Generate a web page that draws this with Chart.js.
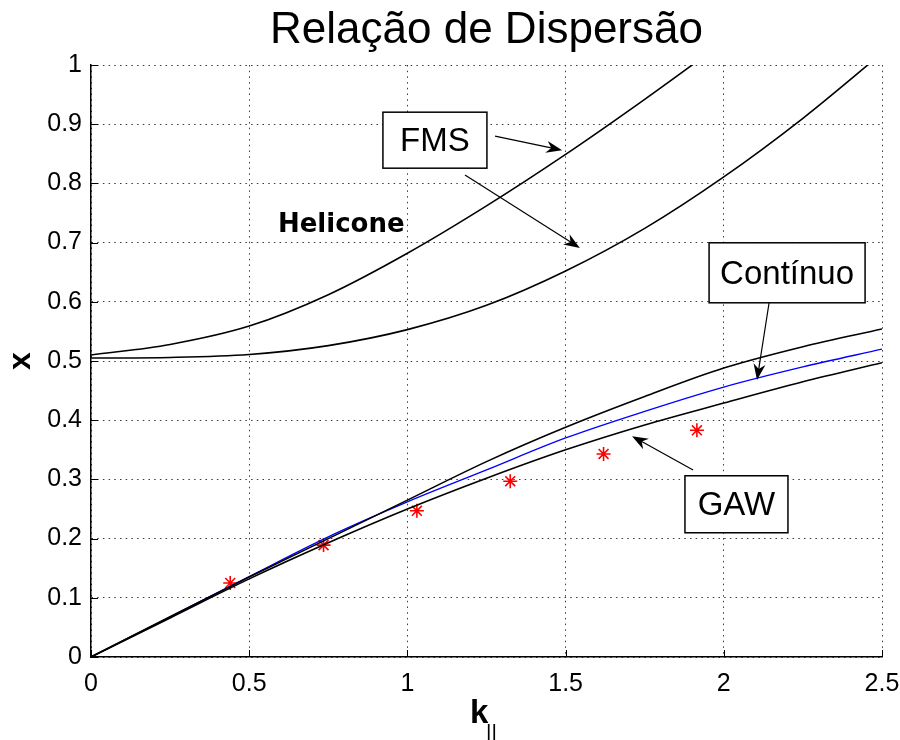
<!DOCTYPE html>
<html>
<head>
<meta charset="utf-8">
<title>Relação de Dispersão</title>
<script src="https://cdn.jsdelivr.net/npm/chart.js@4/dist/chart.umd.min.js"></script>
<style>
  html, body { margin: 0; padding: 0; background: #fff; }
  #wrap { width: 900px; height: 740px; }
</style>
</head>
<body>
<div id="wrap"><canvas id="graph" width="900" height="740"></canvas></div>
<script>
// k|| sample points shared by the curves
const kGrid = [0, 0.25, 0.5, 0.75, 1.0, 1.25, 1.5, 1.75, 2.0, 2.25, 2.5];

// fast magnetosonic branches
const fmsUpper = [0.510, 0.528, 0.559, 0.612, 0.682, 0.762, 0.849, 0.942, 1.039, null, null];
const fmsLower = [0.505, 0.506, 0.511, 0.526, 0.553, 0.594, 0.652, 0.724, 0.811, 0.910, 1.020];

// continuum edges and the GAW branch
const contTop = [0, 0.068, 0.135, 0.200, 0.265, 0.330, 0.388, 0.440, 0.488, 0.524, 0.554];
const contMid = [0, 0.068, 0.136, 0.203, 0.262, 0.316, 0.370, 0.415, 0.456, 0.490, 0.520];
const gawCurve = [0, 0.066, 0.132, 0.193, 0.250, 0.302, 0.350, 0.392, 0.429, 0.465, 0.497];

// measured points
const kMeas = [0.44, 0.735, 1.03, 1.325, 1.62, 1.915];
const xMeas = [0.125, 0.189, 0.247, 0.297, 0.343, 0.383];

const xTicks = [0, 0.5, 1, 1.5, 2, 2.5];
const yTicks = [0, 0.1, 0.2, 0.3, 0.4, 0.5, 0.6, 0.7, 0.8, 0.9, 1];

const FONT = "'Liberation Sans', Arial, Helvetica, sans-serif";

// text boxes and arrows, placed in data units
const boxes = [
  { text: "FMS", k: 1.087, x: 0.873, w: 104, h: 56 },
  { text: "Contínuo", k: 2.200, x: 0.649, w: 156, h: 60 },
  { text: "GAW", k: 2.040, x: 0.258, w: 103, h: 57 }
];
const arrows = [
  { from: [1.277, 0.880], to: [1.489, 0.856] },
  { from: [1.182, 0.814], to: [1.545, 0.691] },
  { from: [2.143, 0.598], to: [2.105, 0.468] },
  { from: [1.903, 0.316], to: [1.710, 0.373] }
];

function pairs(xs, ys) {
  return xs.map((k, i) => ({ x: k, y: ys[i] }));
}

function curve(values, color, width) {
  return {
    data: pairs(kGrid, values),
    borderColor: color,
    borderWidth: width,
    pointRadius: 0,
    fill: false,
    cubicInterpolationMode: "monotone",
    clip: 0
  };
}

function arrowHead(ctx, x1, y1, x2, y2) {
  const ang = Math.atan2(y2 - y1, x2 - x1);
  const len = 16, half = 6, back = 11;
  ctx.beginPath();
  ctx.moveTo(x2, y2);
  ctx.lineTo(x2 - len * Math.cos(ang) + half * Math.sin(ang), y2 - len * Math.sin(ang) - half * Math.cos(ang));
  ctx.lineTo(x2 - back * Math.cos(ang), y2 - back * Math.sin(ang));
  ctx.lineTo(x2 - len * Math.cos(ang) - half * Math.sin(ang), y2 - len * Math.sin(ang) + half * Math.cos(ang));
  ctx.closePath();
  ctx.fill();
}

/* ===============================
   TITLES, INNER TICKS, NOTES
   =============================== */
const decorations = {
  id: "decorations",
  afterDraw(chart) {
    const ctx = chart.ctx;
    const xs = chart.scales.x, ys = chart.scales.y;
    const area = chart.chartArea;

    ctx.save();
    ctx.fillStyle = "#000";
    ctx.strokeStyle = "#000";

    // inward tick marks
    ctx.lineWidth = 1;
    ctx.beginPath();
    xTicks.forEach(v => {
      const px = Math.round(xs.getPixelForValue(v)) + 0.5;
      ctx.moveTo(px, area.bottom);
      ctx.lineTo(px, area.bottom - 7);
    });
    yTicks.forEach(v => {
      const py = Math.round(ys.getPixelForValue(v)) + 0.5;
      ctx.moveTo(area.left, py);
      ctx.lineTo(area.left + 7, py);
    });
    ctx.stroke();

    // title
    ctx.font = "44px " + FONT;
    ctx.textAlign = "center";
    ctx.textBaseline = "alphabetic";
    ctx.fillText("Relação de Dispersão", (area.left + area.right) / 2, 43);

    // x axis label with subscript
    ctx.font = "bold 33px " + FONT;
    ctx.textAlign = "left";
    ctx.fillText("k", 470, 723);
    ctx.font = "21px " + FONT;
    ctx.fillText("||", 486, 739);

    // y axis label
    ctx.save();
    ctx.translate(23, 361);
    ctx.rotate(-Math.PI / 2);
    ctx.font = "bold 32px " + FONT;
    ctx.textAlign = "center";
    ctx.textBaseline = "middle";
    ctx.fillText("x", 0, -2);
    ctx.restore();

    // free label
    ctx.font = "bold 26px 'DejaVu Sans', sans-serif";
    ctx.textAlign = "center";
    ctx.textBaseline = "middle";
    ctx.fillText("Helicone", xs.getPixelForValue(0.791), ys.getPixelForValue(0.730));

    // boxed labels
    ctx.font = "33px " + FONT;
    boxes.forEach(b => {
      const cx = xs.getPixelForValue(b.k), cy = ys.getPixelForValue(b.x);
      ctx.fillStyle = "#fff";
      ctx.fillRect(cx - b.w / 2, cy - b.h / 2, b.w, b.h);
      ctx.lineWidth = 1.5;
      ctx.strokeRect(cx - b.w / 2, cy - b.h / 2, b.w, b.h);
      ctx.fillStyle = "#000";
      ctx.fillText(b.text, cx, cy + 2);
    });

    // arrows
    ctx.lineWidth = 1.2;
    arrows.forEach(a => {
      const x1 = xs.getPixelForValue(a.from[0]), y1 = ys.getPixelForValue(a.from[1]);
      const x2 = xs.getPixelForValue(a.to[0]), y2 = ys.getPixelForValue(a.to[1]);
      const ang = Math.atan2(y2 - y1, x2 - x1);
      ctx.beginPath();
      ctx.moveTo(x1, y1);
      ctx.lineTo(x2 - 10 * Math.cos(ang), y2 - 10 * Math.sin(ang));
      ctx.stroke();
      arrowHead(ctx, x1, y1, x2, y2);
    });

    ctx.restore();
  }
};

/* ===============================
   GRAPH
   =============================== */
const graphCanvas = document.getElementById("graph");

const gridStyle = {
  color: "#3a3a3a",
  lineWidth: 1,
  drawTicks: false
};

const plainNumber = v => String(+Number(v).toFixed(2));

new Chart(graphCanvas, {
  type: "line",
  data: {
    datasets: [
      curve(fmsUpper, "#000", 1.6),
      curve(fmsLower, "#000", 1.6),
      curve(contTop, "#000", 1.6),
      curve(gawCurve, "#000", 1.6),
      curve(contMid, "#0000ff", 1.3),
      {
        data: pairs(kMeas, xMeas),
        showLine: false,
        pointStyle: "star",
        pointRadius: 7,
        pointBorderWidth: 1.6,
        pointBorderColor: "#ff0000",
        pointBackgroundColor: "#ff0000"
      }
    ]
  },
  options: {
    responsive: false,
    animation: false,
    events: [],
    layout: { padding: { left: 0, top: 65, right: 18, bottom: 0 } },
    plugins: {
      legend: { display: false },
      tooltip: { enabled: false }
    },
    scales: {
      x: {
        type: "linear",
        min: 0,
        max: 2.5,
        afterBuildTicks: s => { s.ticks = xTicks.map(v => ({ value: v })); },
        afterFit: s => { s.height = 83; s.paddingLeft = 0; s.paddingRight = 0; },
        grid: gridStyle,
        border: { display: true, color: "#000", width: 1.5, dash: [1.5, 4.2] },
        ticks: {
          color: "#000",
          padding: 12,
          maxRotation: 0,
          callback: plainNumber,
          font: { family: FONT, size: 25 }
        }
      },
      y: {
        min: 0,
        max: 1,
        afterBuildTicks: s => { s.ticks = yTicks.map(v => ({ value: v })); },
        afterFit: s => { s.width = 91; s.paddingTop = 0; s.paddingBottom = 0; },
        grid: gridStyle,
        border: { display: true, color: "#000", width: 1.5, dash: [1.5, 4.2] },
        ticks: {
          color: "#000",
          padding: 9,
          callback: plainNumber,
          font: { family: FONT, size: 25 }
        }
      }
    }
  },
  plugins: [decorations]
});
</script>
</body>
</html>
